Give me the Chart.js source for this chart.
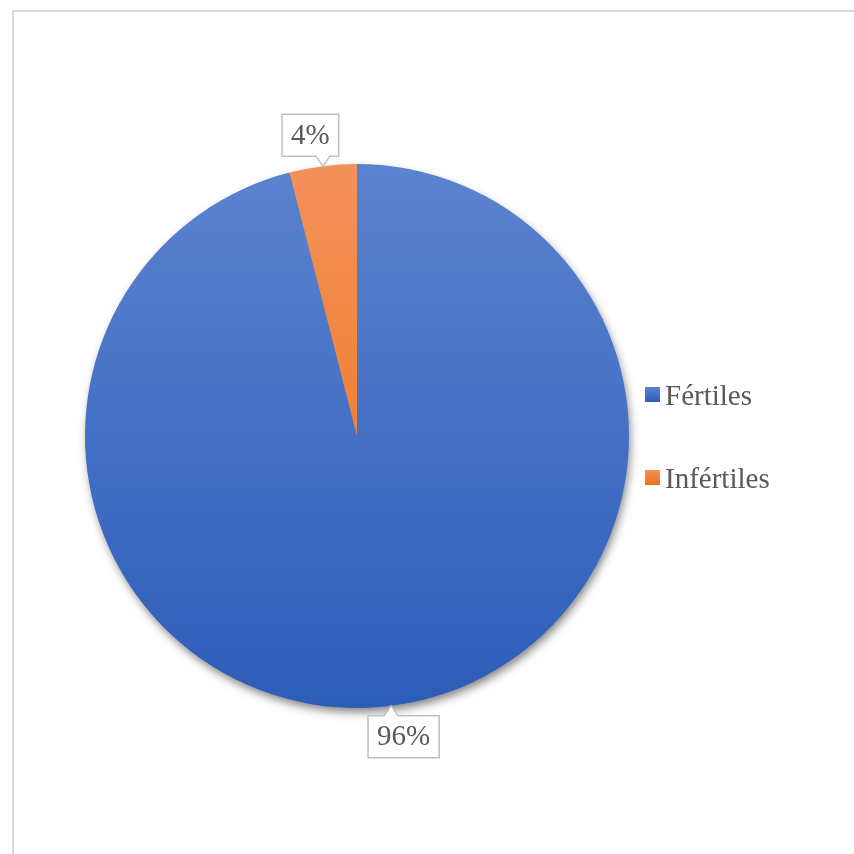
<!DOCTYPE html>
<html>
<head>
<meta charset="utf-8">
<script src="https://cdn.jsdelivr.net/npm/chart.js@4"></script>
<style>
  html, body { margin: 0; padding: 0; background: #fff; }
  #wrap { position: relative; width: 854px; height: 854px; overflow: hidden; }
  #frame { position: absolute; left: 12px; top: 10px; width: 850px; height: 850px;
           border-top: 2px solid #d9d9d9; border-left: 2px solid #d9d9d9; }
  canvas { position: absolute; left: 0; top: 0; }
</style>
</head>
<body>
<div id="wrap">
  <div id="frame"></div>
  <canvas id="pie-canvas" width="854" height="854"></canvas>
</div>
<script>
var categories = ['Fértiles', 'Infértiles'];
var percentages = [96, 4];
var topColors = ['#5b83cf', '#f4915a'];
var bottomColors = ['#2d5cb9', '#ec7112'];

var serif = '"Liberation Serif", "Times New Roman", serif';
var textColor = '#595959';

function sliceGradient(ctx, area, i) {
    var g = ctx.createLinearGradient(0, area.top, 0, area.bottom);
    g.addColorStop(0, topColors[i]);
    g.addColorStop(1, bottomColors[i]);
    return g;
}

// soft drop shadow under the whole pie
var pieShadow = {
    id: 'pieShadow',
    beforeDatasetsDraw: function(chart) {
        var arc = chart.getDatasetMeta(0).data[0];
        if (!arc) return;
        var ctx = chart.ctx;
        ctx.save();
        ctx.shadowColor = 'rgba(0,0,0,0.5)';
        ctx.shadowBlur = 10;
        ctx.shadowOffsetX = 2;
        ctx.shadowOffsetY = 5;
        ctx.fillStyle = '#3d6bc2';
        ctx.beginPath();
        ctx.arc(arc.x, arc.y, arc.outerRadius - 1, 0, Math.PI * 2);
        ctx.fill();
        ctx.restore();
    }
};

// callout boxes with the percentage of each slice
var calloutLabels = {
    id: 'calloutLabels',
    afterDatasetsDraw: function(chart) {
        var ctx = chart.ctx;
        var meta = chart.getDatasetMeta(0);
        ctx.save();
        ctx.font = '29px ' + serif;
        meta.data.forEach(function(arc, i) {
            var p = arc.getProps(['x', 'y', 'startAngle', 'endAngle', 'outerRadius']);
            var mid = (p.startAngle + p.endAngle) / 2;
            var tipX = p.x + Math.cos(mid) * p.outerRadius;
            var tipY = p.y + Math.sin(mid) * p.outerRadius;
            var text = percentages[i] + '%';
            var w = ctx.measureText(text).width + 18;
            var h = 42;
            var gap = 10;
            var down = Math.sin(mid) > 0;
            var cx = tipX + Math.cos(mid) * 100;
            var left = cx - w / 2;
            var top = down ? tipY + gap : tipY - gap - h;
            var edgeY = down ? top : top + h;
            var bx = Math.min(Math.max(tipX, left + 10), left + w - 10);

            ctx.beginPath();
            if (down) {
                ctx.moveTo(left, top);
                ctx.lineTo(bx - 7, top);
                ctx.lineTo(tipX, tipY);
                ctx.lineTo(bx + 7, top);
                ctx.lineTo(left + w, top);
                ctx.lineTo(left + w, top + h);
                ctx.lineTo(left, top + h);
            } else {
                ctx.moveTo(left, top);
                ctx.lineTo(left + w, top);
                ctx.lineTo(left + w, edgeY);
                ctx.lineTo(bx + 7, edgeY);
                ctx.lineTo(tipX, tipY);
                ctx.lineTo(bx - 7, edgeY);
                ctx.lineTo(left, edgeY);
            }
            ctx.closePath();
            ctx.fillStyle = '#ffffff';
            ctx.fill();
            ctx.strokeStyle = '#bfbfbf';
            ctx.lineWidth = 1.5;
            ctx.stroke();

            ctx.fillStyle = textColor;
            ctx.textAlign = 'center';
            ctx.textBaseline = 'middle';
            ctx.fillText(text, left + w / 2, top + h / 2 + 1);
        });
        ctx.restore();
    }
};

// legend on the right with small gradient squares
var sideLegend = {
    id: 'sideLegend',
    afterDraw: function(chart) {
        var ctx = chart.ctx;
        var x = 645, firstY = 387, step = 83, size = 15;
        ctx.save();
        ctx.font = '29px ' + serif;
        ctx.textAlign = 'left';
        ctx.textBaseline = 'alphabetic';
        chart.data.labels.forEach(function(label, i) {
            var y = firstY + i * step;
            var g = ctx.createLinearGradient(0, y, 0, y + size);
            g.addColorStop(0, topColors[i]);
            g.addColorStop(1, bottomColors[i]);
            ctx.fillStyle = g;
            ctx.fillRect(x, y, size, size);
            ctx.fillStyle = textColor;
            ctx.fillText(label, x + 20, y + 18);
        });
        ctx.restore();
    }
};

var pieCanvas = document.getElementById('pie-canvas').getContext('2d');

new Chart(pieCanvas, {
    type: 'pie',
    data: {
        labels: categories,
        datasets: [{
            data: percentages,
            backgroundColor: function(context) {
                var area = context.chart.chartArea;
                if (!area) return topColors[context.dataIndex];
                return sliceGradient(context.chart.ctx, area, context.dataIndex);
            },
            borderWidth: 0
        }]
    },
    options: {
        responsive: false,
        animation: false,
        layout: {
            padding: { left: 85, top: 164, right: 225, bottom: 146 }
        },
        plugins: {
            legend: { display: false },
            tooltip: { enabled: false }
        }
    },
    plugins: [pieShadow, calloutLabels, sideLegend]
});
</script>
</body>
</html>
